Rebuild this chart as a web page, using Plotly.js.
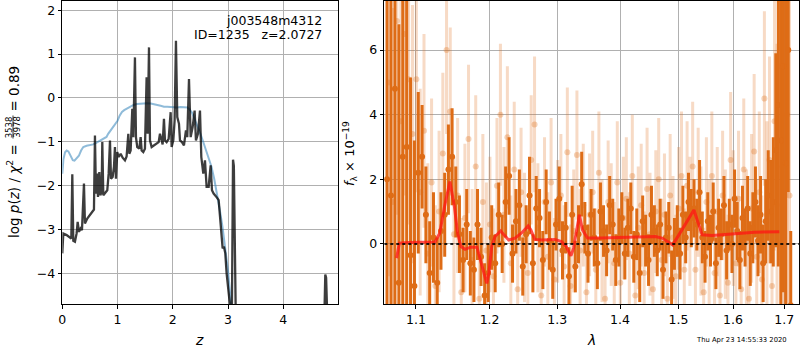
<!DOCTYPE html>
<html>
<head>
<meta charset="utf-8">
<script src="https://cdn.plot.ly/plotly-3.0.1.min.js"></script>
<style>html,body{margin:0;padding:0;background:#fff;}#chart{width:800px;height:350px;}</style>
</head>
<body>
<div id="chart"></div>
<script>
// ---------- left panel: log p(z) ----------
const pzZ = [0.000,0.018,0.078,0.139,0.163,0.181,0.199,0.229,0.259,0.278,0.302,0.332,0.356,0.392,0.410,0.452,0.501,0.549,0.573,0.591,
0.609,0.627,0.646,0.670,0.688,0.712,0.724,0.742,0.772,0.814,0.839,0.863,0.881,0.911,0.935,0.953,0.971,0.995,1.020,1.056,
1.092,1.134,1.164,1.195,1.213,1.237,1.267,1.285,1.315,1.333,1.357,1.394,1.418,1.436,1.466,1.496,1.526,1.545,1.569,1.587,
1.617,1.659,1.707,1.744,1.768,1.798,1.816,1.840,1.858,1.888,1.925,1.961,1.979,2.009,2.033,2.057,2.081,2.112,2.130,2.166,
2.202,2.238,2.262,2.293,2.323,2.359,2.395,2.419,2.455,2.492,2.516,2.552,2.582,2.612,2.649,2.685,2.709,2.739,2.769,2.799,
2.830,2.854,2.878,2.902,2.926,2.950,2.974,3.010,3.047,3.060,3.090,3.105,3.155,3.300,4.650,4.725,4.760,4.775,4.820,4.990];
const pzLogp = [-3.545,-3.091,-3.129,-3.182,-3.205,-1.742,-3.258,-3.280,-3.091,-2.826,-3.053,-2.977,-3.015,-1.955,-2.864,-2.750,-2.674,-2.598,-2.545,-0.856,
-2.182,-1.727,-2.258,-1.689,-2.220,-2.144,-1.008,-2.220,-2.167,-2.106,-1.727,-0.970,-1.841,-1.803,-1.576,-1.121,-1.841,-1.235,-1.348,-1.273,
-1.364,-1.424,-1.333,-0.818,-1.273,-1.197,-0.250,-0.894,0.924,-0.894,-1.121,-1.159,-0.894,-1.197,-1.235,-1.159,0.470,-0.818,1.152,-0.970,
-1.121,-1.083,-1.045,-1.008,-0.818,-0.970,-1.061,-0.477,-0.970,-1.008,-0.932,-0.326,-1.121,-0.970,-0.515,1.303,-0.439,-0.591,-0.970,-1.008,
-1.083,-0.742,-0.894,0.432,-0.894,-0.667,-0.288,-0.970,-0.818,-0.288,-1.348,-1.727,-1.424,-2.030,-2.030,-1.538,-2.106,-2.182,-2.220,-2.273,
-2.333,-2.712,-3.091,-3.432,-3.394,-3.545,-4.000,-4.379,-4.871,-6.5,-1.41,-1.55,-6.5,-9,-9,-6,-4.03,-4.10,-6,-9];

const priorZ = [0.00,0.02,0.05,0.08,0.11,0.15,0.19,0.22,0.26,0.30,0.34,0.38,0.44,0.50,0.56,0.62,0.68,0.74,0.80,0.83,
0.88,0.92,0.96,1.00,1.04,1.08,1.12,1.16,1.22,1.29,1.35,1.41,1.47,1.53,1.60,1.66,1.72,1.78,1.84,1.90,
1.96,2.02,2.08,2.14,2.20,2.26,2.30,2.35,2.40,2.45,2.50,2.55,2.60,2.65,2.70,2.75,2.80,2.85,2.90,2.95,3.00,3.05,3.08];
const priorLogp = [-1.73,-1.40,-1.24,-1.20,-1.22,-1.33,-1.42,-1.43,-1.38,-1.32,-1.20,-1.12,-1.09,-1.08,-1.06,-1.02,-0.98,-0.93,-0.89,-0.82,
-0.73,-0.67,-0.60,-0.52,-0.40,-0.32,-0.28,-0.25,-0.20,-0.16,-0.14,-0.13,-0.12,-0.12,-0.13,-0.14,-0.16,-0.18,-0.20,-0.20,
-0.21,-0.21,-0.22,-0.21,-0.21,-0.22,-0.26,-0.34,-0.50,-0.64,-0.82,-1.00,-1.20,-1.38,-1.57,-1.85,-2.18,-2.55,-2.95,-3.42,-3.95,-4.65,-5.30];

// ---------- right panel: spectrum ----------
const darkWave = [1.063,1.068,1.073,1.078,1.083,1.088,1.093,1.098,1.103,1.108,
1.113,1.118,1.123,1.128,1.133,1.138,1.143,1.148,1.153,1.158,
1.163,1.168,1.173,1.178,1.183,1.188,1.193,1.198,1.203,1.208,
1.213,1.218,1.223,1.228,1.233,1.238,1.243,1.248,1.253,1.258,
1.263,1.268,1.273,1.278,1.283,1.288,1.293,1.298,1.303,1.308,
1.313,1.318,1.323,1.328,1.333,1.338,1.343,1.348,1.353,1.358,
1.363,1.368,1.373,1.378,1.383,1.388,1.393,1.398,1.403,1.408,
1.413,1.418,1.423,1.428,1.433,1.438,1.443,1.448,1.453,1.458,
1.463,1.468,1.473,1.478,1.483,1.488,1.493,1.498,1.503,1.508,
1.513,1.518,1.523,1.528,1.533,1.538,1.543,1.548,1.553,1.558,
1.563,1.568,1.573,1.578,1.583,1.588,1.593,1.598,1.603,1.608,
1.613,1.618,1.623,1.628,1.633,1.638,1.643,1.648,1.653,1.658,
1.663,1.668,1.673,1.678,1.683,1.688,1.693,1.698,1.703,1.708,1.713];
const darkFlux = [2.0,1.5,4.8,-1.2,2.7,3.0,-0.35,-1.3,2.2,2.7,
0.9,-0.9,0.2,-1.2,0.4,0.9,2.3,2.7,1.3,0.3,
-0.5,0.6,-0.6,-0.8,0.6,-0.4,-1.6,-0.9,0.2,-0.6,
0.9,0.0,1.3,2.1,-0.3,0.7,1.2,-0.7,0.3,1.5,
-0.6,1.1,0.8,-0.5,1.3,0.1,-0.8,0.6,1.4,-0.2,
0.5,-1.0,0.9,-0.7,0.3,1.85,0.5,-0.3,0.9,0.2,
-0.6,1.0,0.4,-0.2,1.2,0.6,-0.5,0.2,0.8,-0.3,
0.5,1.1,-0.4,0.3,-0.9,0.7,0.1,-0.5,0.9,0.4,
-0.2,0.6,-0.8,0.2,0.5,-1.1,0.0,0.4,-0.3,0.9,
0.2,1.3,0.8,1.1,0.6,1.6,0.2,-0.4,0.7,0.1,
1.0,-0.6,0.5,0.3,1.2,-0.2,0.6,0.0,1.4,0.4,
-0.5,0.8,0.2,1.1,-0.3,0.5,1.3,0.1,0.9,-0.6,
0.7,1.5,1.0,1.3,2.9,4.3,3.2,5.5,2.5,6.0,-1.9];
const darkErr = [9,9,8,8,7,6,5.5,4.5,2.5,1.6,
1.5,1.6,1.4,1.4,1.2,1.3,1.4,1.5,1.1,1.2,
1.0,1.1,1.0,1.0,1.1,0.9,1.0,0.9,1.0,0.9,
1.0,0.9,1.1,1.2,0.9,1.0,1.1,0.9,0.9,1.2,
0.9,1.0,0.9,0.9,1.0,0.9,0.9,0.8,1.0,0.9,
0.8,0.9,0.9,0.8,0.9,1.0,0.8,0.9,0.8,0.9,
0.8,0.9,0.8,0.8,0.9,0.8,0.8,0.9,0.8,0.8,
0.9,0.8,0.8,0.8,0.9,0.8,0.8,0.8,0.9,0.8,
0.8,0.8,0.9,0.8,0.8,0.9,0.8,0.8,0.8,0.9,
0.8,0.9,0.9,0.9,0.8,1.0,0.8,0.8,0.9,0.8,
0.9,0.8,0.9,0.8,0.9,0.9,0.8,0.9,0.9,0.9,
0.9,1.0,0.9,1.0,1.0,1.1,1.1,1.1,1.2,1.2,
1.3,1.4,1.6,2.0,3.0,5,6,7,8,4.4,2.3];

const lightWave = [1.0655,1.0705,1.0755,1.0805,1.0855,1.0905,1.0955,1.1005,1.1055,1.1105,
1.1155,1.1205,1.1255,1.1305,1.1355,1.1405,1.1455,1.1505,1.1555,1.1605,
1.1655,1.1705,1.1755,1.1805,1.1855,1.1905,1.1955,1.2005,1.2055,1.2105,
1.2155,1.2205,1.2255,1.2305,1.2355,1.2405,1.2455,1.2505,1.2555,1.2605,
1.2655,1.2705,1.2755,1.2805,1.2855,1.2905,1.2955,1.3005,1.3055,1.3105,
1.3155,1.3205,1.3255,1.3305,1.3355,1.3405,1.3455,1.3505,1.3555,1.3605,
1.3655,1.3705,1.3755,1.3805,1.3855,1.3905,1.3955,1.4005,1.4055,1.4105,
1.4155,1.4205,1.4255,1.4305,1.4355,1.4405,1.4455,1.4505,1.4555,1.4605,
1.4655,1.4705,1.4755,1.4805,1.4855,1.4905,1.4955,1.5005,1.5055,1.5105,
1.5155,1.5205,1.5255,1.5305,1.5355,1.5405,1.5455,1.5505,1.5555,1.5605,
1.5655,1.5705,1.5755,1.5805,1.5855,1.5905,1.5955,1.6005,1.6055,1.6105,
1.6155,1.6205,1.6255,1.6305,1.6355,1.6405,1.6455,1.6505,1.6555,1.6605,
1.6655,1.6705,1.6755,1.6805,1.6855,1.6905,1.6955,1.7005,1.7055,1.7105];
const lightFlux = [5.0,1.3,6.9,3.8,6.5,5.1,3.4,5.1,1.6,3.5,
-0.3,1.9,-1.3,1.0,2.8,6.0,4.1,0.3,1.5,-1.5,
0.8,3.25,-0.5,2.4,-1.7,1.3,-0.2,0.6,-1.0,1.8,
4.0,0.9,3.3,-0.6,2.3,-1.4,1.6,0.2,-0.9,2.6,
3.7,0.5,-1.6,1.3,-0.4,1.9,-1.1,0.7,1.5,-0.7,
2.84,-1.3,0.4,2.75,-0.2,1.2,-1.5,0.9,1.6,-0.8,
2.2,0.1,-1.7,1.3,0.6,-0.6,1.9,-1.2,0.8,1.4,
-0.3,2.1,-1.6,0.5,1.2,-0.9,1.7,0.3,-1.4,1.0,
2.0,-0.5,0.9,-1.7,1.5,0.2,-1.0,1.1,2.1,-0.8,
1.8,0.7,2.4,-0.8,1.6,0.4,-1.5,1.3,0.0,2.1,
-0.9,1.0,-1.6,1.5,0.3,-1.2,2.6,0.8,-0.6,1.4,
-1.4,2.3,0.1,-1.7,1.1,2.86,-0.4,1.6,-1.1,4.5,
0.9,2.6,-1.3,3.8,1.2,5.5,2.4,5.5,4.0,1.5];
const lightErr = [6,6,6,5,5,4.5,4,3.5,3.2,3.0,
2.8,2.6,2.5,2.5,2.5,2.6,2.6,2.4,2.4,2.3,
2.3,2.3,2.2,2.2,2.2,2.1,2.1,2.1,2.1,2.1,
2.2,2.1,2.2,2.1,2.1,2.0,2.0,2.0,2.0,2.0,
2.1,2.0,2.0,2.0,2.0,2.0,1.9,1.9,1.9,1.9,
2.0,1.9,1.9,2.0,1.9,1.9,1.9,1.9,1.9,1.9,
1.9,1.9,1.9,1.9,1.9,1.9,1.9,1.9,1.9,1.9,
1.9,1.9,1.9,1.9,1.9,1.9,1.9,1.9,1.9,1.9,
1.9,1.9,1.9,1.9,1.9,1.9,1.9,1.9,2.0,1.9,
2.0,2.0,2.0,2.0,2.0,2.0,2.0,2.0,2.0,2.0,
2.0,2.0,2.0,2.0,2.0,2.1,2.1,2.1,2.1,2.1,
2.2,2.2,2.2,2.3,2.3,2.4,2.4,2.5,2.6,2.7,
2.9,3.2,3.5,4,5,6,7,8,8,8];

const modelWave = [1.0751,1.0786,1.090,1.105,1.118,1.125,1.1313,1.1378,1.145,1.1511,1.1555,1.1600,1.1657,1.1732,1.1822,1.1885,1.1960,1.1990,
1.2030,1.2077,1.2159,1.2205,1.2274,1.2366,1.2459,1.2560,1.2600,1.2658,1.2769,1.2963,1.3063,1.3137,1.3211,1.3252,1.3305,1.3343,1.3393,
1.3472,1.3687,1.4252,1.4595,1.4713,1.4860,1.4900,1.5009,1.5158,1.5278,1.5337,1.5428,1.5608,1.6036,1.6414,1.6900];
const modelFlux = [-0.44,0.02,0.04,0.05,0.05,0.06,0.33,1.16,1.93,1.16,0.33,-0.08,-0.17,-0.10,-0.10,-0.60,-1.22,-0.91,
-0.08,0.23,0.40,0.28,0.12,0.18,0.33,0.56,0.43,0.14,0.12,0.14,0.07,-0.08,-0.37,-0.13,0.43,0.90,0.43,
0.18,0.18,0.21,0.23,0.18,0.02,-0.03,0.28,0.69,1.05,0.74,0.28,0.26,0.31,0.36,0.38];

const zeroWave = [1.0596,1.7298];
const zeroFlux = [0,0];

const pzTicks = [0,1,2,3,4];
const logpTicks = [-4,-3,-2,-1,0,1,2];
const waveTicks = [1.1,1.2,1.3,1.4,1.5,1.6,1.7];
const waveTickText = ['1.1','1.2','1.3','1.4','1.5','1.6','1.7'];
const fluxTicks = [0,2,4,6];

const ORANGE = 'rgb(222,108,22)';
const ORANGE_LIGHT = 'rgba(222,108,22,0.25)';

const traces = [
  {x: priorZ, y: priorLogp, mode:'lines', line:{color:'rgba(31,119,180,0.5)', width:2}, xaxis:'x', yaxis:'y', hoverinfo:'skip'},
  {x: pzZ, y: pzLogp, mode:'lines', line:{color:'rgba(0,0,0,0.76)', width:2.3}, xaxis:'x', yaxis:'y', hoverinfo:'skip'},
  {x: lightWave, y: lightFlux, mode:'markers', marker:{size:6, color:'rgba(222,108,22,0.3)', line:{width:0}},
   error_y:{type:'data', array: lightErr, visible:true, thickness:3, width:0, color: ORANGE_LIGHT}, xaxis:'x2', yaxis:'y2', hoverinfo:'skip'},
  {x: darkWave, y: darkFlux, mode:'markers', marker:{size:6, color: ORANGE, line:{width:0}},
   error_y:{type:'data', array: darkErr, visible:true, thickness:3, width:0, color: ORANGE}, xaxis:'x2', yaxis:'y2', hoverinfo:'skip'},
  {x: modelWave, y: modelFlux, mode:'lines', line:{color:'rgba(255,20,20,0.75)', width:3}, xaxis:'x2', yaxis:'y2', hoverinfo:'skip'},
  {x: zeroWave, y: zeroFlux, mode:'lines', line:{color:'rgba(0,0,0,0.85)', width:2, dash:'dot'}, xaxis:'x2', yaxis:'y2', hoverinfo:'skip'}
];

const axisCommon = {
  showgrid:true, gridcolor:'#b0b0b0', gridwidth:1, zeroline:false,
  showline:true, linecolor:'#000', linewidth:1, mirror:true,
  ticks:'outside', ticklen:3.5, tickwidth:1, tickcolor:'#000',
  tickfont:{family:'DejaVu Sans', size:12.5, color:'#000'}
};

const W = 800, H = 350;
const px = v => v / W;
const py = v => 1 - v / H;

const layout = {
  width: W, height: H,
  margin:{l:0, r:0, t:0, b:0},
  paper_bgcolor:'#fff', plot_bgcolor:'#fff',
  showlegend:false,
  font:{family:'DejaVu Sans', size:12, color:'#000'},
  xaxis: Object.assign({}, axisCommon, {domain:[px(62.3), px(338)], range:[0, 4.99], tickvals: pzTicks, anchor:'y'}),
  yaxis: Object.assign({}, axisCommon, {domain:[1-304/H, 1-1/H], range:[-4.70, 2.21], tickvals: logpTicks, anchor:'x'}),
  xaxis2: Object.assign({}, axisCommon, {domain:[px(384.3), px(799)], type:'log',
          range:[Math.log10(1.0596), Math.log10(1.7298)], tickvals: waveTicks, ticktext: waveTickText, anchor:'y2'}),
  yaxis2: Object.assign({}, axisCommon, {domain:[1-304/H, 1-1/H], range:[-1.86, 7.52], tickvals: fluxTicks, anchor:'x2'}),
  shapes:[
    {type:'line', xref:'paper', yref:'paper', x0:px(13), x1:px(13), y0:py(115.5), y1:py(138.5), line:{color:'#000', width:0.8}}
  ],
  annotations:[
    {text:'j003548m4312', xref:'paper', yref:'paper', x:px(323.5), y:py(20), xanchor:'right', yanchor:'middle', showarrow:false, font:{size:12.5}},
    {text:'ID=1235\u00a0\u00a0\u00a0z=2.0727', xref:'paper', yref:'paper', x:px(323.5), y:py(35), xanchor:'right', yanchor:'middle', showarrow:false, font:{size:12.5}},
    {text:'<i>z</i>', xref:'paper', yref:'paper', x:px(199), y:py(340), xanchor:'center', yanchor:'middle', showarrow:false, font:{size:14}},
    {text:'<i>λ</i>', xref:'paper', yref:'paper', x:px(591.5), y:py(340), xanchor:'center', yanchor:'middle', showarrow:false, font:{size:14}},
    {text:'Thu Apr 23 14:55:33 2020', xref:'paper', yref:'paper', x:px(788.5), y:py(339.5), xanchor:'right', yanchor:'middle', showarrow:false, font:{size:6.8}},
    {text:'log <i>p</i>(<i>z</i>) / <i>χ</i><sup>2</sup> =', xref:'paper', yref:'paper', x:px(13), y:py(191), xanchor:'center', yanchor:'middle', textangle:-90, showarrow:false, font:{size:13.5}},
    {text:'3538', xref:'paper', yref:'paper', x:px(9.3), y:py(127), xanchor:'center', yanchor:'middle', textangle:-90, showarrow:false, font:{size:8.5}},
    {text:'3978', xref:'paper', yref:'paper', x:px(16.7), y:py(127), xanchor:'center', yanchor:'middle', textangle:-90, showarrow:false, font:{size:8.5}},
    {text:'= 0.89', xref:'paper', yref:'paper', x:px(13), y:py(88.5), xanchor:'center', yanchor:'middle', textangle:-90, showarrow:false, font:{size:13.5}},
    {text:'<i>f</i><sub>λ</sub> × 10<sup>−19</sup>', xref:'paper', yref:'paper', x:px(350), y:py(154), xanchor:'center', yanchor:'middle', textangle:-90, showarrow:false, font:{size:13}}
  ]
};

Plotly.newPlot('chart', traces, layout, {staticPlot:true, displayModeBar:false});
</script>
</body>
</html>
